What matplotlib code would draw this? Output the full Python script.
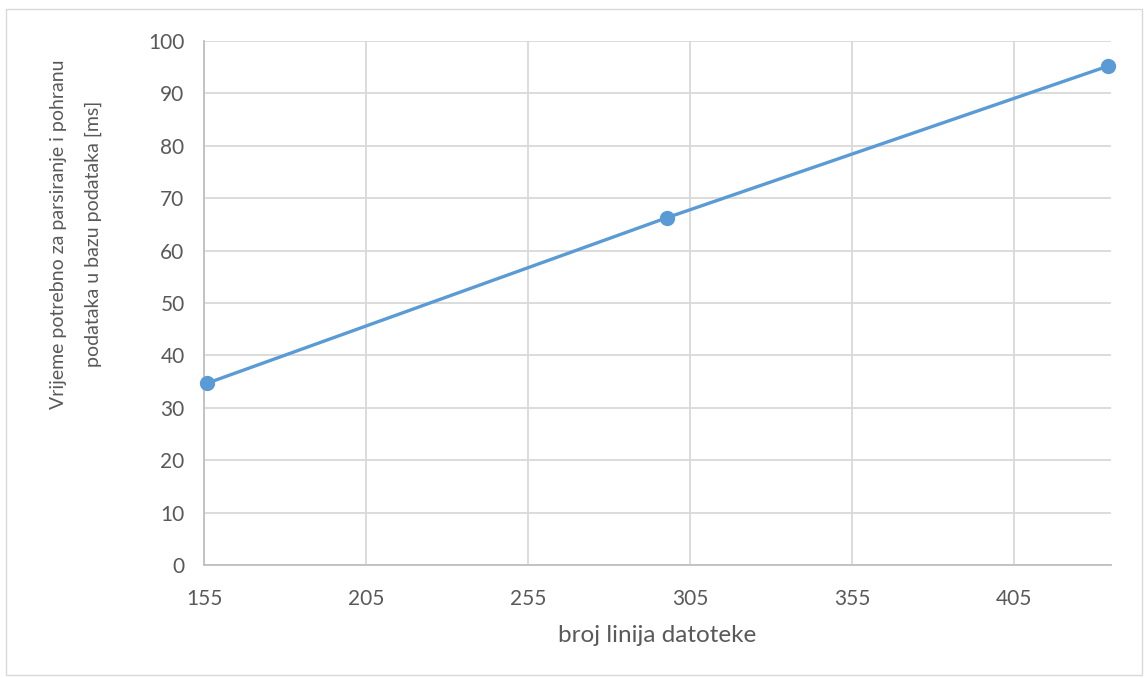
import matplotlib.pyplot as plt
from matplotlib.patches import Rectangle

# data
line_counts = [156, 298, 434]
times_ms = [34.7, 66.3, 95.2]
x_ticks = [155, 205, 255, 305, 355, 405]
y_ticks = [0, 10, 20, 30, 40, 50, 60, 70, 80, 90, 100]

plt.rcParams['font.family'] = ['Lato', 'DejaVu Sans']

fig = plt.figure(figsize=(11.48, 6.78), dpi=100)
ax = fig.add_axes([0.1777, 0.1667, 0.7901, 0.7728])

# thin frame round the whole chart area
fig.patches.append(Rectangle((0.005, 0.004), 0.99, 0.983, transform=fig.transFigure,
                             fill=False, edgecolor='#D9D9D9', linewidth=1))

ax.plot(line_counts, times_ms, color='#5B9BD5', linewidth=2.4,
        marker='o', markersize=10, zorder=3, clip_on=False)

ax.set_xlim(155, 435)
ax.set_ylim(0, 100)
ax.set_xticks(x_ticks)
ax.set_yticks(y_ticks)
ax.grid(True, color='#D9D9D9', linewidth=1.3)
ax.set_axisbelow(True)

for side in ['top', 'right']:
    ax.spines[side].set_visible(False)
for side in ['left', 'bottom']:
    ax.spines[side].set_color('#BFBFBF')
    ax.spines[side].set_linewidth(1.3)

ax.tick_params(length=0, labelsize=15, labelcolor='#595959')
ax.tick_params(axis='x', pad=17)
ax.tick_params(axis='y', pad=14)

ax.set_xlabel('broj linija datoteke', fontsize=17.5, color='#595959', labelpad=12)
ax.set_ylabel('Vrijeme potrebno za parsiranje i pohranu\npodataka u bazu podataka [ms]',
              fontsize=14, color='#595959', linespacing=2.2)
# the y label sits above the middle of the axis in the reference
ax.yaxis.set_label_coords(-0.113, 0.632)

fig.savefig('out.png', dpi=100)
